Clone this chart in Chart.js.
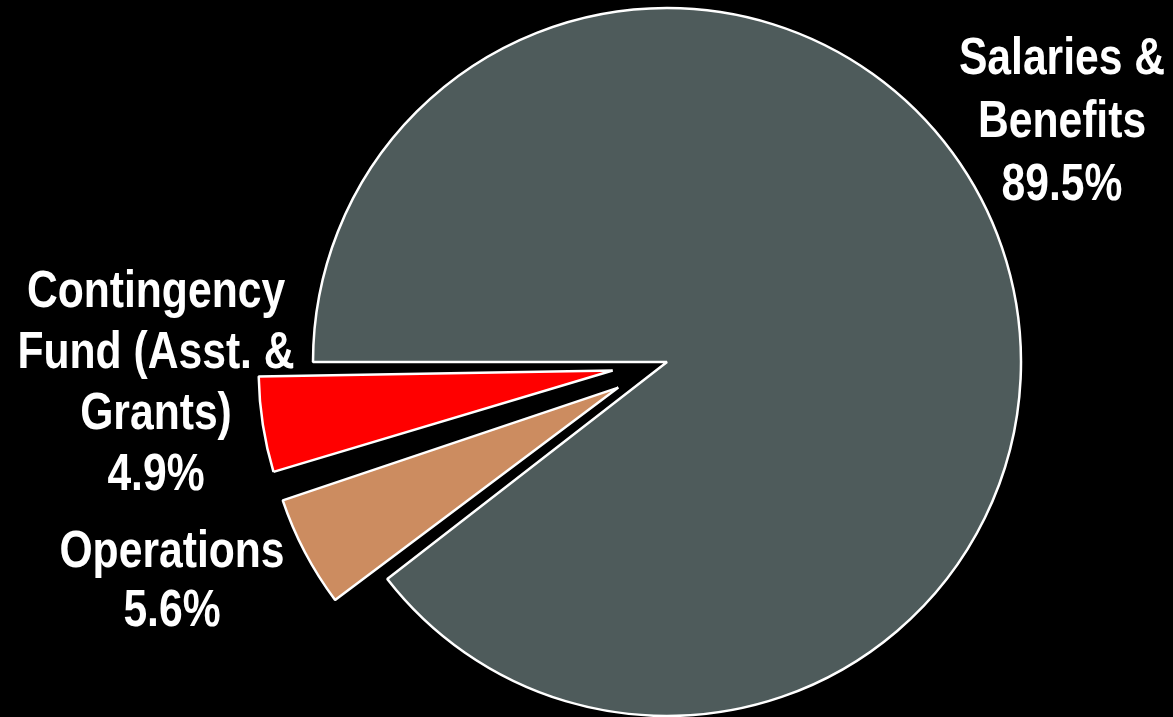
<!DOCTYPE html>
<html>
<head>
<meta charset="utf-8">
<title>Budget pie</title>
<script src="https://cdn.jsdelivr.net/npm/chart.js@4.4.1/dist/chart.umd.min.js"></script>
<style>
  html, body { margin: 0; padding: 0; background: #000; }
  .wrap { width: 1173px; height: 717px; position: relative; }
</style>
</head>
<body>
<div class="wrap"><canvas id="budget-chart"></canvas></div>
<script>
// data
const categories = ['Salaries & Benefits', 'Operations', 'Contingency Fund (Asst. & Grants)']
const shares = [89.5, 5.6, 4.9]
const labelLines = [
    ['Salaries &', 'Benefits', '89.5%'],
    ['Operations', '5.6%'],
    ['Contingency', 'Fund (Asst. &', 'Grants)', '4.9%']
]

// styles
const sliceColors = ['#4e5b5b', '#cc8c60', '#ff0000']
// chart.js v4 draws an arc offset at a quarter of this value
const sliceOffsets = [0, 220, 220]
// label anchor relative to pie centre: centre x, first baseline y
const labelAnchors = [
    { dx: 395, dy: -288, lh: 63 },
    { dx: -495, dy: 205, lh: 59 },
    { dx: -511, dy: -55, lh: 61 }
]

// start: font check
function hasFont(name) {
    const c = document.createElement('canvas').getContext('2d')
    c.font = 'bold 52px monospace'
    const a = c.measureText('Contingency Fund').width
    c.font = 'bold 52px "' + name + '", monospace'
    const b = c.measureText('Contingency Fund').width
    return a !== b
}
let labelFont = 'bold 52px "Liberation Sans Narrow", "Arial Narrow", sans-serif'
let squeeze = 1
if (!hasFont('Liberation Sans Narrow') && !hasFont('Arial Narrow')) {
    labelFont = 'bold 52px "Liberation Sans", Arial, sans-serif'
    squeeze = 0.82
}
// end: font check

// exploded slices get a bigger radius in chart.js, keep them the same size as the pie
const keepRadius = {
    id: 'keepRadius',
    beforeDatasetDraw(chart, args) {
        args.meta.data.forEach(function (arc) {
            const off = (arc.options.offset || 0) / 4
            const circ = arc.endAngle - arc.startAngle
            const fix = 1 - Math.sin(Math.min(Math.PI, circ))
            arc.$fullRadius = arc.outerRadius
            arc.outerRadius = arc.outerRadius - off * fix
        })
    },
    afterDatasetDraw(chart, args) {
        args.meta.data.forEach(function (arc) {
            arc.outerRadius = arc.$fullRadius
        })
    }
}

const sliceLabels = {
    id: 'sliceLabels',
    afterDatasetsDraw(chart) {
        const ctx = chart.ctx
        const arcs = chart.getDatasetMeta(0).data
        ctx.save()
        ctx.fillStyle = '#fff'
        ctx.font = labelFont
        ctx.textAlign = 'center'
        ctx.textBaseline = 'alphabetic'
        arcs.forEach(function (arc, i) {
            const a = labelAnchors[i]
            const cx = arc.x + a.dx
            labelLines[i].forEach(function (line, j) {
                const y = arc.y + a.dy + j * a.lh
                ctx.save()
                ctx.translate(cx, y)
                ctx.scale(squeeze, 1)
                ctx.fillText(line, 0, 0)
                ctx.restore()
            })
        })
        ctx.restore()
    }
}

new Chart(document.getElementById('budget-chart'), {
    type: 'pie',
    data: {
        labels: categories,
        datasets: [{
            data: shares,
            backgroundColor: sliceColors,
            borderColor: '#ffffff',
            borderWidth: 2.5,
            offset: sliceOffsets,
            hoverOffset: 0
        }]
    },
    options: {
        responsive: true,
        maintainAspectRatio: false,
        animation: false,
        events: [],
        rotation: -90,
        radius: 354,
        layout: {
            padding: { left: 161, right: 0, top: 7, bottom: 0 }
        },
        plugins: {
            legend: { display: false },
            tooltip: { enabled: false }
        }
    },
    plugins: [keepRadius, sliceLabels]
})
</script>
</body>
</html>
